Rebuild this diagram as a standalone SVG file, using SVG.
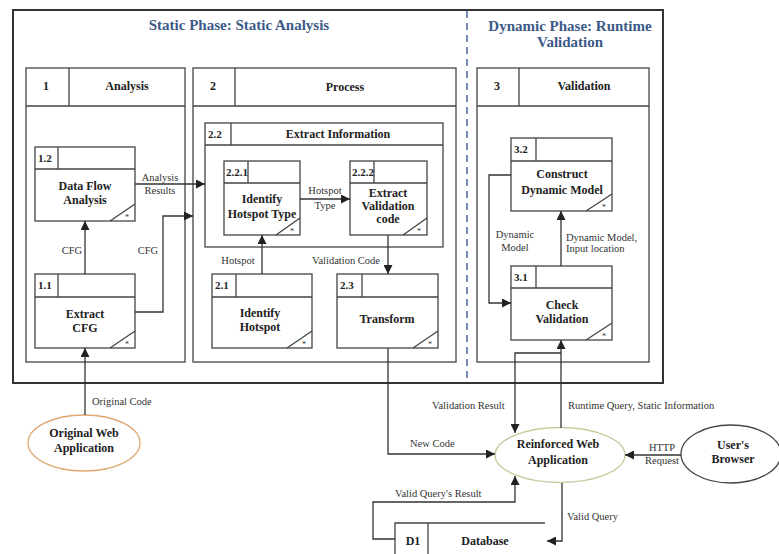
<svg xmlns="http://www.w3.org/2000/svg" width="779" height="554" viewBox="0 0 779 554">
<defs>
<marker id="ah" viewBox="0 0 10 10" refX="10" refY="5" markerWidth="9" markerHeight="9" markerUnits="userSpaceOnUse" orient="auto">
<path d="M0,0 L10,5 L0,10 z" fill="#222"/>
</marker>
<style>
.b{fill:#fff;stroke:#444;stroke-width:1.3}
.ln{fill:none;stroke:#444;stroke-width:1.3}
.c{fill:none;stroke:#333;stroke-width:1.3;marker-end:url(#ah)}
.t{font-family:"Liberation Serif","Times New Roman",serif;font-weight:bold;font-size:12px;fill:#222;text-anchor:middle}
.n{font-family:"Liberation Serif","Times New Roman",serif;font-weight:bold;font-size:11px;fill:#222}
.l{font-family:"Liberation Serif","Times New Roman",serif;font-size:10.5px;fill:#333}
.m{text-anchor:middle}
.s{font-family:"Liberation Serif",serif;font-size:8px;fill:#333;text-anchor:middle}
.ti{font-family:"Liberation Serif","Times New Roman",serif;font-weight:bold;font-size:15px;fill:#3b5a88;text-anchor:middle}
</style>
</defs>
<rect width="779" height="554" fill="#fff"/>
<g id="frame">
<rect x="13" y="10" width="650" height="373" fill="none" stroke="#333" stroke-width="2"/>
<line x1="467" y1="11" x2="467" y2="381" stroke="#4a6a9a" stroke-width="1.5" stroke-dasharray="7,5"/>
<text class="ti" x="239" y="30">Static Phase: Static Analysis</text>
<text class="ti" x="570" y="31">Dynamic Phase: Runtime</text>
<text class="ti" x="570" y="47">Validation</text>
</g>
<g id="p1">
<rect class="b" x="26" y="68" width="159" height="294"/>
<path class="ln" d="M26,106 H185 M69,68 V106"/>
<text class="t" x="46" y="90">1</text>
<text class="t" x="127" y="90">Analysis</text>
</g>
<g id="p2">
<rect class="b" x="193" y="68" width="263" height="294"/>
<path class="ln" d="M193,106 H456 M235,68 V106"/>
<text class="t" x="213" y="90">2</text>
<text class="t" x="345" y="91">Process</text>
</g>
<g id="p3">
<rect class="b" x="477" y="68" width="172" height="294"/>
<path class="ln" d="M477,106 H649 M519,68 V106"/>
<text class="t" x="497" y="90">3</text>
<text class="t" x="584" y="90">Validation</text>
</g>
<g id="p1_2">
<rect class="b" x="35" y="147" width="100" height="74"/>
<path class="ln" d="M35,169 H135 M58,147 V169 M110,221 L135,204"/>
<text class="n" x="38" y="162">1.2</text>
<text class="t" x="85" y="190">Data Flow</text>
<text class="t" x="85" y="204">Analysis</text>
<text class="s" x="127" y="220">*</text>
</g>
<g id="p1_1">
<rect class="b" x="35" y="274" width="100" height="74"/>
<path class="ln" d="M35,297 H135 M58,274 V297 M110,348 L135,331"/>
<text class="n" x="38" y="289">1.1</text>
<text class="t" x="85" y="318">Extract</text>
<text class="t" x="85" y="332">CFG</text>
<text class="s" x="127" y="347">*</text>
</g>
<g id="p2_2">
<rect class="b" x="205" y="123" width="238" height="124"/>
<path class="ln" d="M205,145 H443 M231,123 V145"/>
<text class="n" x="208" y="138">2.2</text>
<text class="t" x="338" y="138">Extract Information</text>
</g>
<g id="p2_2_1">
<rect class="b" x="224" y="161" width="76" height="74"/>
<path class="ln" d="M224,183 H300 M248,161 V183 M276,235 L300,218"/>
<text class="n" x="226" y="176">2.2.1</text>
<text class="t" x="262" y="203">Identify</text>
<text class="t" x="262" y="218">Hotspot Type</text>
<text class="s" x="292" y="234">*</text>
</g>
<g id="p2_2_2">
<rect class="b" x="350" y="161" width="77" height="74"/>
<path class="ln" d="M350,183 H427 M374,161 V183 M403,235 L427,218"/>
<text class="n" x="352" y="176">2.2.2</text>
<text class="t" x="388" y="197">Extract</text>
<text class="t" x="388" y="210">Validation</text>
<text class="t" x="388" y="223">code</text>
<text class="s" x="419" y="234">*</text>
</g>
<g id="p2_1">
<rect class="b" x="212" y="274" width="100" height="74"/>
<path class="ln" d="M212,297 H312 M236,274 V297 M287,348 L312,331"/>
<text class="n" x="215" y="289">2.1</text>
<text class="t" x="260" y="317">Identify</text>
<text class="t" x="260" y="331">Hotspot</text>
<text class="s" x="304" y="347">*</text>
</g>
<g id="p2_3">
<rect class="b" x="337" y="274" width="101" height="74"/>
<path class="ln" d="M337,297 H438 M362,274 V297 M413,348 L438,331"/>
<text class="n" x="340" y="289">2.3</text>
<text class="t" x="387" y="323">Transform</text>
<text class="s" x="430" y="347">*</text>
</g>
<g id="p3_2">
<rect class="b" x="511" y="138" width="101" height="73"/>
<path class="ln" d="M511,161 H612 M536,138 V161 M586,211 L612,194"/>
<text class="n" x="514" y="153">3.2</text>
<text class="t" x="562" y="178">Construct</text>
<text class="t" x="562" y="194">Dynamic Model</text>
<text class="s" x="604" y="210">*</text>
</g>
<g id="p3_1">
<rect class="b" x="511" y="266" width="101" height="74"/>
<path class="ln" d="M511,288 H612 M536,266 V288 M586,340 L612,323"/>
<text class="n" x="514" y="281">3.1</text>
<text class="t" x="562" y="309">Check</text>
<text class="t" x="562" y="323">Validation</text>
<text class="s" x="604" y="339">*</text>
</g>
<g id="origApp">
<ellipse cx="84" cy="443" rx="56" ry="28" fill="#fff" stroke="#e0a870" stroke-width="1.3"/>
<text class="t" x="84" y="437">Original Web</text>
<text class="t" x="84" y="452">Application</text>
</g>
<g id="reinforced">
<ellipse cx="560" cy="455" rx="65" ry="27.5" fill="#fff" stroke="#c9c9a0" stroke-width="1.3"/>
<text class="t" x="558" y="448">Reinforced Web</text>
<text class="t" x="558" y="464">Application</text>
</g>
<g id="browser">
<ellipse cx="731" cy="454" rx="50" ry="29" fill="#fff" stroke="#444" stroke-width="1.3"/>
<text class="t" x="733" y="449">User's</text>
<text class="t" x="733" y="463">Browser</text>
</g>
<g id="database">
<path class="ln" d="M395,554 V523 H545 M428,523 V554"/>
<text class="t" x="413" y="545">D1</text>
<text class="t" x="485" y="545">Database</text>
</g>
<g id="connectors">
<path class="c" d="M85,274 V221"/>
<path class="c" d="M135,312 H163 V216 H193"/>
<path class="c" d="M135,184 H205"/>
<path class="c" d="M262,274 V235"/>
<path class="c" d="M300,199 H350"/>
<path class="c" d="M388,235 V274"/>
<path class="c" d="M388,348 V454 H495"/>
<path class="c" d="M561,353 H515 V433"/>
<path class="c" d="M561,428 V340"/>
<path class="c" d="M561,266 V211"/>
<path class="c" d="M511,175 H489 V303 H511"/>
<path class="c" d="M85,415 V348"/>
<path class="c" d="M681,455 H625"/>
<path class="c" d="M395,539 H373 V502 H515 V476"/>
<path class="c" d="M562,483 V541 H547"/>
<text class="l m" x="160" y="181">Analysis</text>
<text class="l m" x="160" y="194">Results</text>
<text class="l m" x="72" y="254">CFG</text>
<text class="l m" x="148" y="254">CFG</text>
<text class="l m" x="238" y="264">Hotspot</text>
<text class="l m" x="325" y="194">Hotspot</text>
<text class="l m" x="325" y="209">Type</text>
<text class="l m" x="346" y="264">Validation Code</text>
<text class="l m" x="515" y="238">Dynamic</text>
<text class="l m" x="515" y="251">Model</text>
<text class="l" x="566" y="241">Dynamic Model,</text>
<text class="l" x="566" y="252">Input location</text>
<text class="l" x="92" y="405">Original Code</text>
<text class="l" x="432" y="409">Validation Result</text>
<text class="l" x="568" y="409">Runtime Query, Static Information</text>
<text class="l" x="410" y="447">New Code</text>
<text class="l m" x="662" y="451">HTTP</text>
<text class="l m" x="662" y="464">Request</text>
<text class="l" x="395" y="497">Valid Query's Result</text>
<text class="l" x="567" y="520">Valid Query</text>
</g>
</svg>
